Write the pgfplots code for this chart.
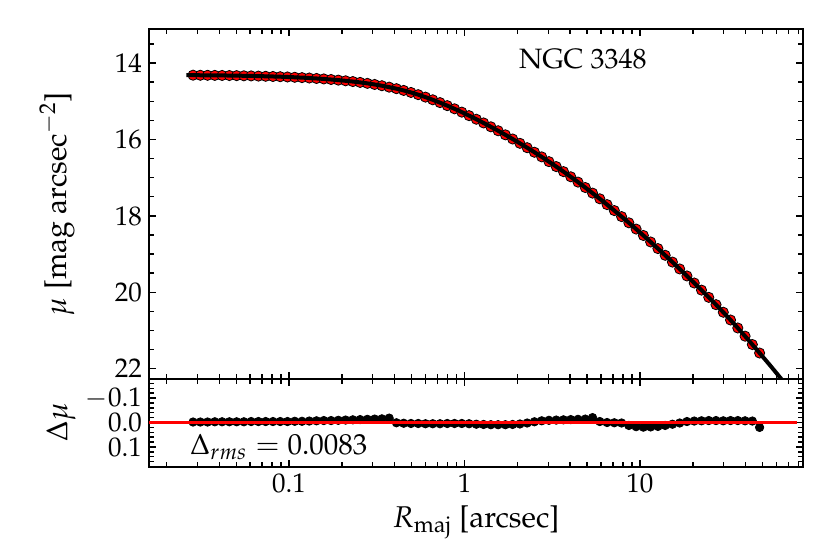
\documentclass[border=0pt]{standalone}
\usepackage[T1]{fontenc}
\usepackage{mathpazo}
\usepackage{pgfplots}
\usepackage{pgfplotstable}
\pgfplotsset{compat=1.18}

\pgfplotstableread{
R mu dmu
0.02838 14.319 -0.002
0.03122 14.321 -0.002
0.03434 14.322 -0.002
0.03777 14.324 -0.003
0.04155 14.326 -0.003
0.04571 14.328 -0.003
0.05028 14.331 -0.003
0.05530 14.335 -0.003
0.06083 14.338 -0.004
0.06692 14.343 -0.004
0.07361 14.348 -0.004
0.08097 14.353 -0.004
0.08907 14.359 -0.004
0.09798 14.366 -0.004
0.10777 14.374 -0.005
0.11855 14.383 -0.005
0.13041 14.393 -0.006
0.14345 14.405 -0.007
0.15779 14.417 -0.008
0.17357 14.432 -0.008
0.19093 14.448 -0.009
0.21002 14.466 -0.010
0.23102 14.486 -0.011
0.25413 14.508 -0.012
0.27954 14.533 -0.013
0.30749 14.562 -0.014
0.33824 14.595 -0.015
0.37207 14.632 -0.018
0.40927 14.672 0.001
0.45020 14.718 0.003
0.49522 14.771 0.004
0.54474 14.829 0.004
0.59922 14.893 0.005
0.65914 14.963 0.005
0.72505 15.037 0.005
0.79756 15.116 0.004
0.87731 15.199 0.004
0.96505 15.286 0.004
1.06155 15.378 0.005
1.16770 15.472 0.007
1.28447 15.569 0.008
1.41292 15.670 0.009
1.55421 15.773 0.009
1.70963 15.880 0.009
1.88060 15.989 0.008
2.06866 16.102 0.006
2.27552 16.217 0.002
2.50308 16.336 -0.003
2.75338 16.457 -0.007
3.02872 16.582 -0.009
3.33159 16.711 -0.010
3.66475 16.843 -0.011
4.03123 16.978 -0.012
4.43435 17.117 -0.013
4.87778 17.259 -0.014
5.36556 17.405 -0.020
5.90212 17.554 -0.004
6.49233 17.706 0.000
7.14156 17.862 0.001
7.85572 18.020 0.002
8.64129 18.182 0.012
9.50542 18.346 0.017
10.4560 18.514 0.019
11.5016 18.684 0.018
12.6517 18.857 0.016
13.9169 19.032 0.012
15.3086 19.210 0.007
16.8395 19.390 0.002
18.5234 19.573 -0.004
20.3758 19.758 -0.006
22.4133 19.944 -0.007
24.6547 20.133 -0.008
27.1201 20.325 -0.008
29.8322 20.523 -0.007
32.8154 20.726 -0.008
36.0969 20.935 -0.008
39.7066 21.149 -0.007
43.6773 21.368 -0.006
48.0450 21.590 0.020
}\prof

\pgfplotsset{
  mystyle/.style={
    scale only axis,
    width=327pt,
    xmin=0.01592, xmax=84.9,
    y dir=reverse,
    axis line style={line width=0.7pt},
    every tick/.style={black, line width=0.7pt},
    tick align=inside,
    xtick pos=both, ytick pos=both,
    major tick length=3.75pt,
    minor tick length=2.3pt,
    xtick={0.1,1,10},
    minor xtick={0.02,0.03,0.04,0.05,0.06,0.07,0.08,0.09,0.2,0.3,0.4,0.5,0.6,0.7,0.8,0.9,2,3,4,5,6,7,8,9,20,30,40,50,60,70,80},
    ticklabel style={font=\fontsize{13.5}{15}\selectfont},
    clip=true,
    clip marker paths=true,
  }
}

\begin{document}
\begin{tikzpicture}
\path[use as bounding box] (0,0) rectangle (415pt,278.5pt);

\begin{axis}[xmode=log, mystyle,
  at={(74.5pt,89pt)}, anchor=south west,
  height=175pt,
  ymin=13.11, ymax=22.27,
  ytick={14,16,18,20,22},
  minor ytick={13.5,14.5,15,15.5,16.5,17,17.5,18.5,19,19.5,20.5,21,21.5},
  xticklabels={},
]
\addplot[only marks, mark=*, mark size=2.55pt,
  mark options={fill=red, draw=black, line width=0.4pt}]
  table[x=R, y=mu]{\prof};
\addplot[black, line width=2pt, mark=none] table[x=R, y=mu]{\prof};
\addplot[black, line width=2pt, mark=none] coordinates {(0.0260,14.318) (0.02838,14.319)};
\addplot[black, line width=2pt, mark=none] coordinates {(48.045,21.590) (55.0,21.907) (63.1,22.24) (72.4,22.576)};
\end{axis}

\begin{axis}[xmode=log, mystyle,
  at={(74.5pt,45pt)}, anchor=south west,
  height=44pt,
  ymin=-0.178, ymax=0.182,
  ytick={-0.1,0,0.1},
  yticklabels={$-0.1$,$0.0$,$0.1$},
  minor ytick={-0.16,-0.14,-0.12,-0.08,-0.06,-0.04,-0.02,0.02,0.04,0.06,0.08,0.12,0.14,0.16,0.18},
  xticklabels={$0.1$,$1$,$10$},
]
\addplot[only marks, mark=*, mark size=2.1pt,
  mark options={fill=black, draw=black}]
  table[x=R, y=dmu]{\prof};
\addplot[red, line width=1.3pt, mark=none] coordinates {(0.01592,0) (78,0)};
\end{axis}

\node[anchor=base west, font=\fontsize{14}{16}\selectfont] at (256pt,244pt) {NGC 3348};
\node[anchor=base west, font=\fontsize{14.5}{16}\selectfont] at (91.5pt,51pt) {$\Delta_{rms} = 0.0083$};
\node[anchor=base, font=\fontsize{15}{17}\selectfont] at (238pt,15pt) {$R_{\mathrm{maj}}$ [arcsec]};
\node[rotate=90, anchor=center, font=\fontsize{15}{17}\selectfont] at (28.5pt,176.5pt) {$\mu$ [mag arcsec$^{-2}$]};
\node[rotate=90, anchor=center, font=\fontsize{15}{17}\selectfont] at (30.5pt,67.5pt) {$\Delta\mu$};
\end{tikzpicture}
\end{document}
